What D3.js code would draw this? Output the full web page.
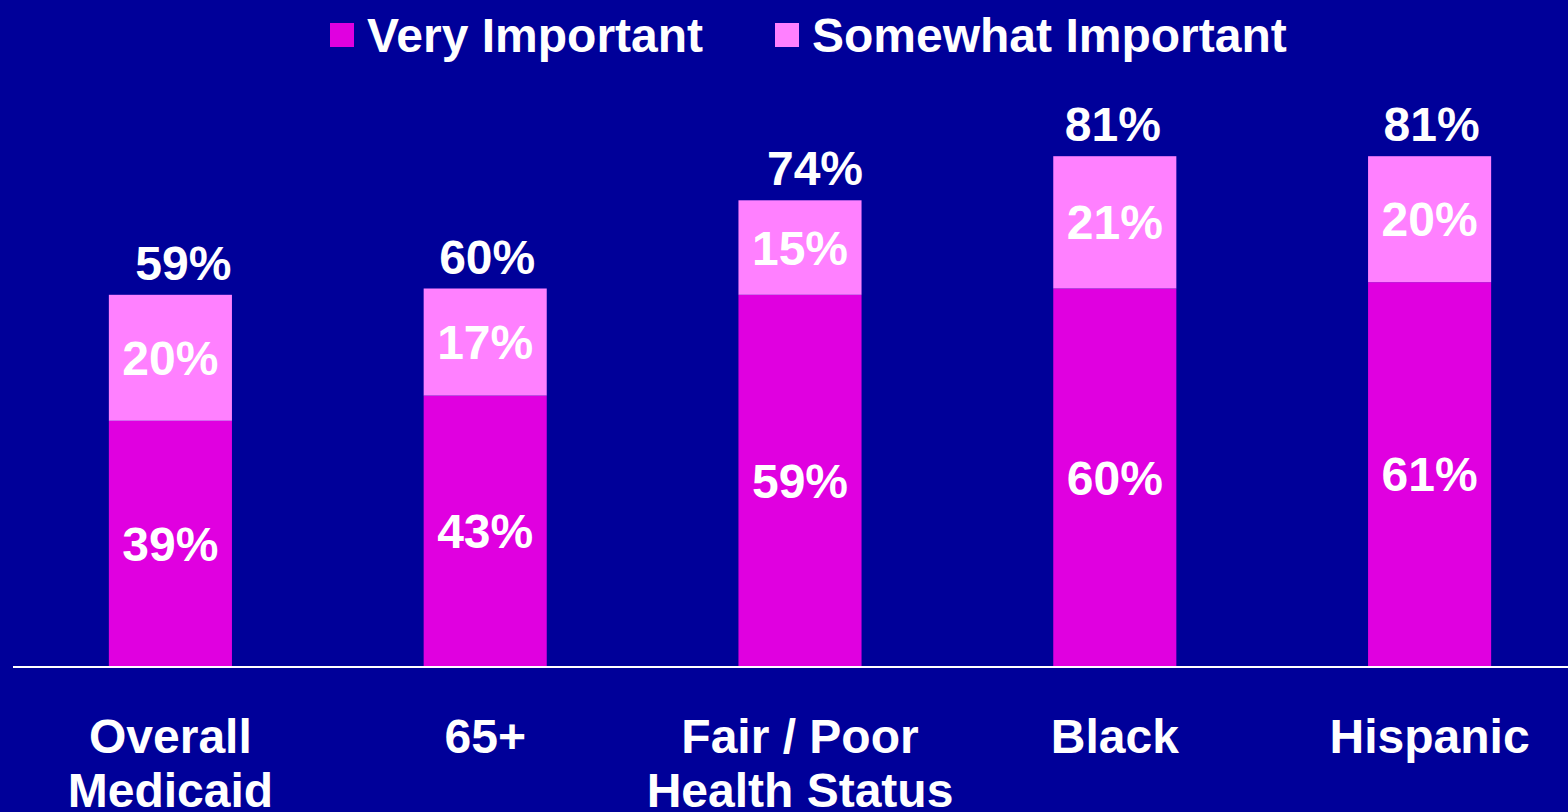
<!DOCTYPE html>
<html>
<head>
<meta charset="utf-8">
<script src="https://cdn.jsdelivr.net/npm/d3@7"></script>
<style>
  html, body { margin: 0; padding: 0; background: #000099; }
  svg { display: block; }
  text { font-family: "Liberation Sans", Arial, sans-serif; font-weight: bold; fill: #ffffff; }
</style>
</head>
<body>
<svg id="chart" width="1568" height="812"></svg>
<script>
// Survey groups and the share rating each item as important
const categories = [["Overall", "Medicaid"], ["65+"], ["Fair / Poor", "Health Status"], ["Black"], ["Hispanic"]];
const veryImportant = [39, 43, 59, 60, 61];
const somewhatImportant = [20, 17, 15, 21, 20];
const totals = [59, 60, 74, 81, 81];
const seriesNames = ["Very Important", "Somewhat Important"];
const seriesColors = ["#e000e0", "#ff80ff"];

const W = 1568, H = 812;
const FONT = 48;
// small horizontal nudges for the total labels
const totalNudge = [13, 2, 15, -2, 2];

const svg = d3.select("#chart");
svg.append("rect").attr("width", W).attr("height", H).attr("fill", "#000099");

const x = d3.scaleBand()
  .domain(d3.range(categories.length))
  .range([13, 1587])
  .paddingInner(0.609)
  .paddingOuter(0.3045);

const y = d3.scaleLinear().domain([0, 100]).range([666.5, 36.5]);

const rows = categories.map((c, i) => ({ i, very: veryImportant[i], some: somewhatImportant[i], total: totals[i] }));
const stack = d3.stack().keys(["very", "some"])(rows);

const layers = svg.append("g").selectAll("g")
  .data(stack).join("g")
  .attr("fill", (d, k) => seriesColors[k]);

layers.selectAll("rect")
  .data(d => d).join("rect")
  .attr("x", d => x(d.data.i))
  .attr("width", x.bandwidth())
  .attr("y", d => y(d[1]))
  .attr("height", d => y(d[0]) - y(d[1]));

// segment value labels
layers.selectAll("text")
  .data(d => d).join("text")
  .attr("x", d => x(d.data.i) + x.bandwidth() / 2)
  .attr("y", d => (y(d[0]) + y(d[1])) / 2 + 17)
  .attr("text-anchor", "middle")
  .attr("font-size", FONT)
  .text(d => (d[1] - d[0]) + "%");

// totals above each bar
svg.append("g").selectAll("text")
  .data(rows).join("text")
  .attr("x", d => x(d.i) + x.bandwidth() / 2 + totalNudge[d.i])
  .attr("y", d => y(d.total) - 15)
  .attr("text-anchor", "middle")
  .attr("font-size", FONT)
  .text(d => d.total + "%");

// baseline
svg.append("line")
  .attr("x1", 13).attr("x2", W)
  .attr("y1", y(0) + 0.5).attr("y2", y(0) + 0.5)
  .attr("stroke", "#ffffff").attr("stroke-width", 2);

// category labels
const cat = svg.append("g").selectAll("text")
  .data(categories).join("text")
  .attr("x", (d, i) => x(i) + x.bandwidth() / 2)
  .attr("y", 753)
  .attr("text-anchor", "middle")
  .attr("font-size", FONT);
cat.selectAll("tspan")
  .data(d => d).join("tspan")
  .attr("x", function () { return d3.select(this.parentNode).attr("x"); })
  .attr("dy", (d, j) => j === 0 ? 0 : 54)
  .text(d => d);

// legend
const legendX = [330, 775];
const legend = svg.append("g").selectAll("g")
  .data(seriesNames).join("g")
  .attr("transform", (d, i) => `translate(${legendX[i]},23)`);
legend.append("rect")
  .attr("width", 24).attr("height", 24)
  .attr("fill", (d, i) => seriesColors[i]);
legend.append("text")
  .attr("x", 37).attr("y", 29)
  .attr("font-size", FONT)
  .text(d => d);
</script>
</body>
</html>
